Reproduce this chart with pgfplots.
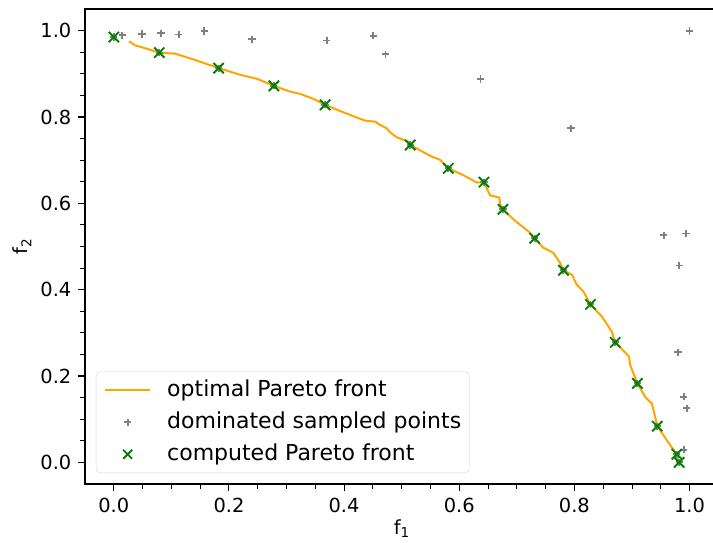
\documentclass[border=0pt]{standalone}
\usepackage{fontspec}
\setmainfont{DejaVu Sans}
\usepackage{pgfplots}
\pgfplotsset{compat=1.18}
\definecolor{mplorange}{RGB}{255,165,0}
\definecolor{mplgreen}{RGB}{0,128,0}
\definecolor{mplgray}{RGB}{128,128,128}
\newcommand{\mplfont}{\fontsize{19.4bp}{23bp}\selectfont}
\newcommand{\legfont}{\fontsize{22bp}{26bp}\selectfont}
\newcommand{\sub}[1]{\raisebox{-3.5bp}{\fontsize{13.6bp}{14bp}\selectfont #1}}
\begin{document}
\mplfont
\begin{tikzpicture}
\begin{axis}[
  scale only axis,
  width=633.3bp, height=475bp,
  xmin=-0.05, xmax=1.05, ymin=-0.05, ymax=1.05,
  axis line style={line width=1.1bp},
  xtick={0,0.2,0.4,0.6,0.8,1.0},
  ytick={0,0.2,0.4,0.6,0.8,1.0},
  minor x tick num=3, minor y tick num=3,
  tick align=outside, xtick pos=bottom, ytick pos=left,
  major tick length=7bp, minor tick length=4.5bp,
  tick style={black, line width=1.1bp},
  every minor tick/.append style={line width=0.85bp},
  /pgf/number format/assume math mode=true,
  xticklabel style={font=\mplfont, /pgf/number format/fixed, /pgf/number format/fixed zerofill, /pgf/number format/precision=1},
  yticklabel style={font=\mplfont, /pgf/number format/fixed, /pgf/number format/fixed zerofill, /pgf/number format/precision=1},
  xlabel={f\sub{1}}, ylabel={f\sub{2}},
  label style={font=\mplfont},
  xlabel style={yshift=6bp},
  ylabel style={yshift=-4bp},
  legend style={at={(axis description cs:0,0)}, anchor=south west, xshift=11bp, yshift=11bp,
    draw=black!17, rounded corners=4bp, fill=white, fill opacity=0.8, text opacity=1,
    inner xsep=8bp, inner ysep=2.5bp, row sep=0bp, font=\legfont,
    nodes={inner xsep=0bp, inner ysep=5.25bp, text height=16.5bp, text depth=5bp},
    cells={anchor=west}},
]
\addplot[mplorange, line width=2bp, no markers,
  legend image code/.code={\draw[mplorange, line width=2bp] (0bp,0bp) -- (45bp,0bp); \path[draw=none] (0bp,0bp) -- (62bp,0bp);}]
coordinates {
(0.0266,0.9751) (0.0370,0.9658) (0.0573,0.9581) (0.0792,0.9488) (0.1065,0.9465)
(0.1383,0.9333) (0.1615,0.9226) (0.1817,0.9133) (0.2194,0.8977) (0.2484,0.8884)
(0.2779,0.8721) (0.3062,0.8588) (0.3236,0.8535) (0.3467,0.8419) (0.3670,0.8279)
(0.3874,0.8170) (0.4162,0.8016) (0.4365,0.7914) (0.4539,0.7891) (0.4626,0.7814)
(0.4742,0.7737) (0.4799,0.7644) (0.4916,0.7528) (0.5117,0.7426) (0.5152,0.7349)
(0.5494,0.7100) (0.5668,0.7007) (0.5812,0.6807) (0.6073,0.6651) (0.6305,0.6481)
(0.6427,0.6488) (0.6536,0.6186) (0.6698,0.6133) (0.6710,0.5977) (0.6762,0.5860)
(0.6941,0.5628) (0.7231,0.5319) (0.7306,0.5186) (0.7462,0.4970) (0.7636,0.4853)
(0.7752,0.4621) (0.7810,0.4449) (0.7956,0.4349) (0.8042,0.4116) (0.8157,0.3960)
(0.8279,0.3658) (0.8477,0.3379) (0.8650,0.3030) (0.8708,0.2784) (0.8951,0.2449)
(0.8969,0.2256) (0.9095,0.1830) (0.9229,0.1519) (0.9345,0.1365) (0.9443,0.0837)
(0.9606,0.0512) (0.9750,0.0240) (0.9807,0.0086)
};
\addlegendentry{optimal Pareto front}
\addplot[only marks, mark=+, mark size=3.6bp, mplgray, mark options={line width=1.9bp},
  legend image code/.code={\draw[mplgray, line width=1.8bp] (19bp,0bp) -- (26bp,0bp) (22.5bp,-3.5bp) -- (22.5bp,3.5bp); \path[draw=none] (0bp,0bp) -- (62bp,0bp);}]
coordinates {
(0.015,0.989) (0.049,0.992) (0.082,0.994) (0.113,0.991) (0.157,0.999)
(0.240,0.980) (0.370,0.977) (0.451,0.988) (0.472,0.945) (0.637,0.888)
(0.794,0.774) (1.000,1.000) (1.000,0.999) (0.955,0.526) (0.994,0.530) (0.982,0.456)
(0.980,0.255) (0.990,0.152) (0.995,0.125) (0.990,0.029)
(0.000,0.985) (0.079,0.949) (0.182,0.913) (0.278,0.872) (0.367,0.828)
(0.515,0.735) (0.581,0.681) (0.643,0.649) (0.676,0.586) (0.731,0.519)
(0.781,0.445) (0.828,0.366) (0.871,0.278) (0.9095,0.183) (0.944,0.084)
(0.978,0.019) (0.982,0.000)
};
\addlegendentry{dominated sampled points}
\addplot[only marks, mark=x, mark size=7.3bp, mplgreen, mark options={line width=1.9bp},
  legend image code/.code={\draw[mplgreen, line width=1.9bp] (18bp,-4.5bp) -- (27bp,4.5bp) (18bp,4.5bp) -- (27bp,-4.5bp); \path[draw=none] (0bp,0bp) -- (62bp,0bp);}]
coordinates {
(0.000,0.985) (0.079,0.949) (0.182,0.913) (0.278,0.872) (0.367,0.828)
(0.515,0.735) (0.581,0.681) (0.643,0.649) (0.676,0.586) (0.731,0.519)
(0.781,0.445) (0.828,0.366) (0.871,0.278) (0.9095,0.183) (0.944,0.084)
(0.978,0.019) (0.982,0.000)
};
\addlegendentry{computed Pareto front}
\end{axis}
\pgfresetboundingbox
\path[use as bounding box] ([xshift=-85bp,yshift=-59bp]current axis.south west) rectangle ([xshift=628bp,yshift=484bp]current axis.south west);
\end{tikzpicture}
\end{document}
